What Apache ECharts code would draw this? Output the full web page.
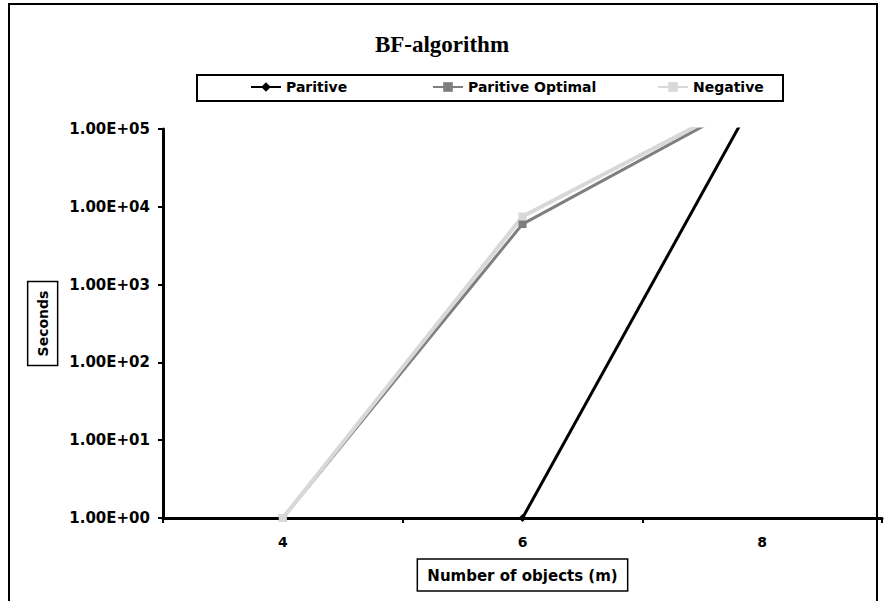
<!DOCTYPE html>
<html>
<head>
<meta charset="utf-8">
<script src="https://cdn.jsdelivr.net/npm/echarts@6/dist/echarts.min.js"></script>
<style>
html, body { margin: 0; padding: 0; background: #fff; }
#chart { width: 884px; height: 601px; }
</style>
</head>
<body>
<div id="chart"></div>
<script>
// Data
var objects = ['4', '6', '8'];
var paritive = [null, 1, 370000];
var paritiveOptimal = [1, 6000, 280000];
var negative = [1, 7500, 300000];

var boldFont = 'DejaVu Sans';

function SciLabel(value) {	// 1.00E+05 style
	var exp = Math.round(Math.log10(value));
	var e = Math.abs(exp) < 10 ? '0' + Math.abs(exp) : '' + Math.abs(exp);
	return '1.00E' + (exp < 0 ? '-' : '+') + e;
}

function LegendAt(name, left) {	// one legend per entry, so each sits where the original has it
	return {
		data: [name],
		left: left,
		top: 80,
		itemWidth: 30,
		itemHeight: 12,
		itemGap: 0,
		padding: 0,
		textStyle: { fontFamily: boldFont, fontWeight: 'bold', fontSize: 14, color: '#000' }
	};
}

var chart = echarts.init(document.getElementById('chart'), null, { renderer: 'svg' });

chart.setOption({
	animation: false,
	backgroundColor: '#fff',
	title: {
		text: 'BF-algorithm',
		left: 'center',
		top: 28,
		textStyle: { fontFamily: 'Liberation Serif', fontWeight: 'bold', fontSize: 23, color: '#000' }
	},
	graphic: [
		{ type: 'rect', shape: { x: 9, y: 4, width: 868, height: 600 }, style: { fill: 'none', stroke: '#000', lineWidth: 2 }, silent: true },
		{ type: 'rect', shape: { x: 197, y: 75, width: 586, height: 26 }, style: { fill: 'none', stroke: '#000', lineWidth: 2 }, silent: true }
	],
	legend: [
		LegendAt('Paritive', 250),
		LegendAt('Paritive Optimal', 432),
		LegendAt('Negative', 657)
	],
	grid: { left: 163, top: 129, right: 2, bottom: 83 },
	xAxis: {
		type: 'category',
		data: objects,
		boundaryGap: true,
		name: 'Number of objects (m)',
		nameLocation: 'middle',
		nameGap: 41,
		nameTextStyle: {
			fontFamily: boldFont, fontWeight: 'bold', fontSize: 15, color: '#000',
			borderColor: '#000', borderWidth: 1.5, padding: [9, 10, 8, 10]
		},
		axisLine: { lineStyle: { color: '#000', width: 3 } },
		axisTick: { show: true, length: 5, lineStyle: { color: '#000', width: 2 } },
		axisLabel: { fontFamily: boldFont, fontWeight: 'bold', fontSize: 14, color: '#000', margin: 17 },
		splitLine: { show: false }
	},
	yAxis: {
		type: 'log',
		logBase: 10,
		min: 1,
		max: 100000,
		name: 'Seconds',
		nameLocation: 'middle',
		nameRotate: 90,
		nameGap: 103,
		nameTextStyle: {
			fontFamily: boldFont, fontWeight: 'bold', fontSize: 14, color: '#000',
			borderColor: '#000', borderWidth: 1.5, padding: [8, 9, 8, 9]
		},
		axisLine: { show: true, lineStyle: { color: '#000', width: 3 } },
		axisTick: { show: true, length: 5, lineStyle: { color: '#000', width: 2 } },
		axisLabel: { fontFamily: boldFont, fontWeight: 'bold', fontSize: 15, color: '#000', margin: 13, formatter: SciLabel },
		splitLine: { show: false }
	},
	series: [
		{
			name: 'Paritive',
			type: 'line',
			data: paritive,
			color: '#000',
			symbol: 'diamond',
			symbolSize: 8,
			lineStyle: { width: 3 },
			clip: true
		},
		{
			name: 'Paritive Optimal',
			type: 'line',
			data: paritiveOptimal,
			color: '#7f7f7f',
			symbol: 'rect',
			symbolSize: 8,
			lineStyle: { width: 3 },
			clip: true
		},
		{
			name: 'Negative',
			type: 'line',
			data: negative,
			color: '#d8d8d8',
			symbol: 'rect',
			symbolSize: 8,
			lineStyle: { width: 4 },
			clip: true
		}
	]
});
</script>
</body>
</html>
